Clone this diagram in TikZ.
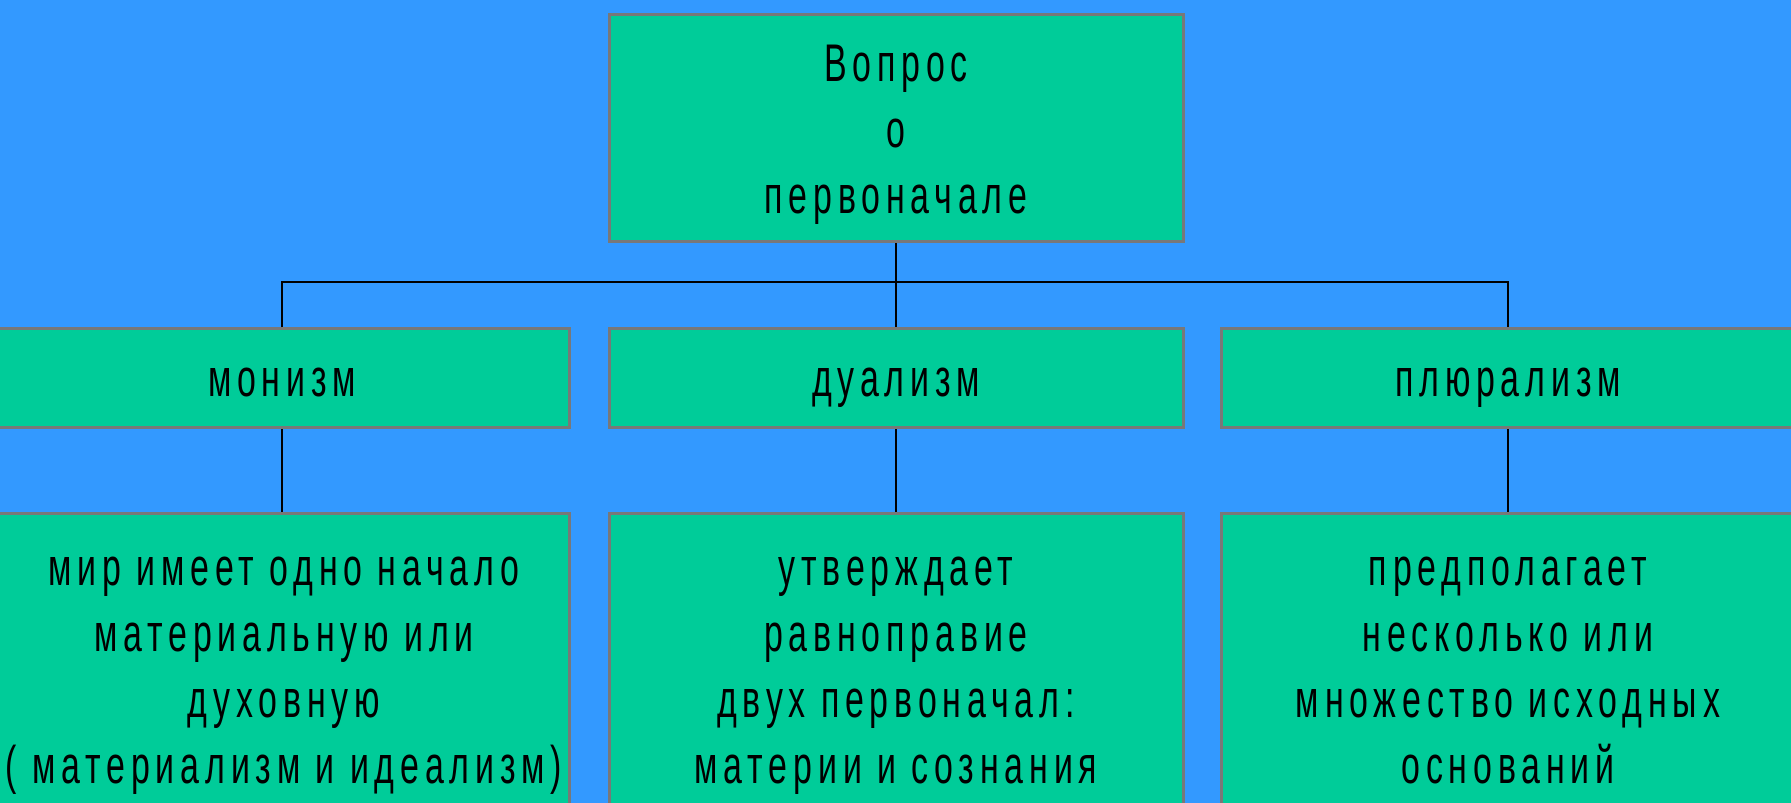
\documentclass[tikz,border=0pt]{standalone}
\usepackage{fontspec}
\newfontfamily\narfont[FakeStretch=0.64,LetterSpace=11]{Liberation Sans}
\definecolor{bgblue}{RGB}{51,153,255}
\definecolor{boxgreen}{RGB}{0,204,153}
\definecolor{boxedge}{RGB}{120,120,120}
\newcommand{\boxtext}{\fontsize{53}{66}\selectfont\narfont}
\newcommand{\hs}{\rule{0pt}{41pt}}
\newcommand{\ds}{\rule[-14pt]{0pt}{14pt}}
\begin{document}
\begin{tikzpicture}[x=1pt,y=-1pt,
  cell/.style={draw=boxedge,line width=3pt,fill=boxgreen,minimum width=574pt,inner sep=0pt},
  label text/.style={inner sep=0pt,align=center,font=\boxtext,text=black},
  link/.style={draw=black,line width=2.5pt}]
\useasboundingbox (0,0) rectangle (1791,803);
\clip (0,0) rectangle (1791,803);
\fill[bgblue] (0,0) rectangle (1791,803);
% boxes
\node[cell,minimum height=227pt] (top) at (896,128) {};
\node[cell,minimum height=99pt] (mon) at (282,378) {};
\node[cell,minimum height=99pt] (dua) at (896,378) {};
\node[cell,minimum height=99pt] (plu) at (1508,378) {};
\node[cell,minimum height=306pt] (monb) at (282,666) {};
\node[cell,minimum height=306pt] (duab) at (896,666) {};
\node[cell,minimum height=306pt] (plub) at (1508,666) {};
% texts
\node[label text] (topt) at (896,134) {\hs Вопрос\\о\\первоначале\ds};
\node[label text] (mont) at (282,383) {\hs монизм\ds};
\node[label text] (duat) at (896,383) {\hs дуализм\ds};
\node[label text] (plut) at (1508,383) {\hs плюрализм\ds};
\node[label text] (monbt) at (284,671) {\hs мир имеет одно начало\\материальную или\\духовную\\( материализм и идеализм)\ds};
\node[label text] (duabt) at (896,671) {\hs утверждает\\равноправие\\двух первоначал:\\материи и сознания\ds};
\node[label text] (plubt) at (1508,671) {\hs предполагает\\несколько или\\множество исходных\\оснований\ds};
% connectors
\coordinate (bus) at (896,282);
\draw[link] (top.south) -- (bus);
\draw[link] (mon.north) -- (mon.north |- bus) -- (plu.north |- bus) -- (plu.north);
\draw[link] (bus) -- (dua.north);
\draw[link] (mon.south) -- (monb.north);
\draw[link] (dua.south) -- (duab.north);
\draw[link] (plu.south) -- (plub.north);
\end{tikzpicture}
\end{document}
